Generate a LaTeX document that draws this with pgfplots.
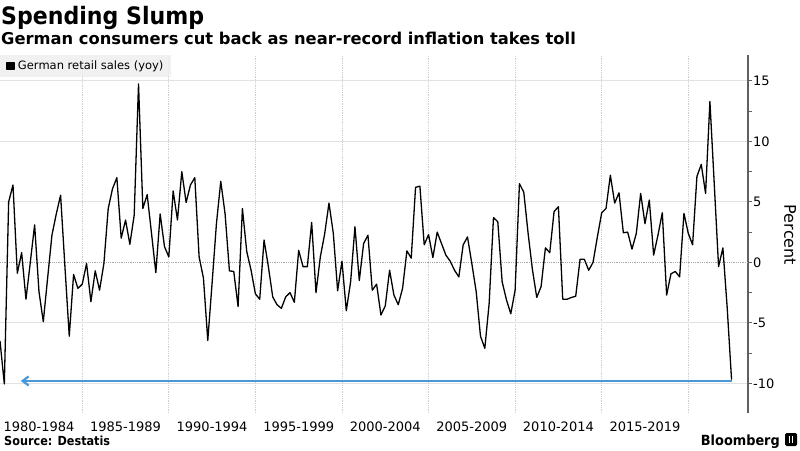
\documentclass[border=0pt]{standalone}
\usepackage{fontspec}
\setmainfont{DejaVu Sans}
\newfontfamily\titlefont{DejaVu Sans}[FakeStretch=0.92]
\newfontfamily\srcfont{DejaVu Sans}[FakeStretch=0.9]
\usepackage{pgfplots}
\pgfplotsset{compat=1.18}
\usetikzlibrary{arrows.meta}
\definecolor{hgrid}{HTML}{E2E2E2}
\definecolor{vgrid}{HTML}{CFCFCF}
\definecolor{zerogrid}{HTML}{A8A8A8}
\definecolor{axisgray}{HTML}{606060}
\definecolor{arrowblue}{HTML}{4A98D8}
\definecolor{legfill}{HTML}{EEEEEE}

\pgfplotstableread{
x y
1980.25 -6.5
1980.50 -10.05
1980.75 5.0
1981.00 6.4
1981.25 -0.9
1981.50 0.8
1981.75 -3.05
1982.00 0.0
1982.25 3.1
1982.50 -2.4
1982.75 -4.9
1983.00 -1.3
1983.25 2.25
1983.50 4.0
1983.75 5.55
1984.00 -0.35
1984.25 -6.1
1984.50 -1.0
1984.75 -2.15
1985.00 -1.8
1985.25 -0.1
1985.50 -3.25
1985.75 -0.7
1986.00 -2.3
1986.25 -0.1
1986.50 4.45
1986.75 6.1
1987.00 7.0
1987.25 2.0
1987.50 3.5
1987.75 1.5
1988.00 3.9
1988.25 14.75
1988.50 4.45
1988.75 5.6
1989.00 2.4
1989.25 -0.85
1989.50 4.0
1989.75 1.3
1990.00 0.45
1990.25 5.9
1990.50 3.5
1990.75 7.5
1991.00 4.95
1991.25 6.4
1991.50 7.0
1991.75 0.45
1992.00 -1.3
1992.25 -6.45
1992.50 -1.7
1992.75 3.2
1993.00 6.7
1993.25 4.0
1993.50 -0.7
1993.75 -0.75
1994.00 -3.65
1994.25 4.45
1994.50 0.9
1994.75 -0.65
1995.00 -2.6
1995.25 -3.05
1995.50 1.85
1995.75 -0.35
1996.00 -2.85
1996.25 -3.5
1996.50 -3.8
1996.75 -2.85
1997.00 -2.5
1997.25 -3.3
1997.50 1.0
1997.75 -0.35
1998.00 -0.35
1998.25 3.3
1998.50 -2.5
1998.75 0.45
1999.00 2.35
1999.25 4.9
1999.50 2.4
1999.75 -2.35
2000.00 0.1
2000.25 -4.0
2000.50 -1.6
2000.75 2.95
2001.00 -1.5
2001.25 1.55
2001.50 2.25
2001.75 -2.3
2002.00 -1.8
2002.25 -4.35
2002.50 -3.6
2002.75 -0.65
2003.00 -2.7
2003.25 -3.5
2003.50 -2.15
2003.75 0.95
2004.00 0.35
2004.25 6.2
2004.50 6.3
2004.75 1.45
2005.00 2.3
2005.25 0.4
2005.50 2.5
2005.75 1.55
2006.00 0.6
2006.25 0.1
2006.50 -0.65
2006.75 -1.2
2007.00 1.45
2007.25 2.1
2007.50 -0.1
2007.75 -2.4
2008.00 -6.1
2008.25 -7.1
2008.50 -3.4
2008.75 3.7
2009.00 3.35
2009.25 -1.6
2009.50 -3.1
2009.75 -4.25
2010.00 -2.3
2010.25 6.5
2010.50 5.8
2010.75 2.4
2011.00 -0.6
2011.25 -2.9
2011.50 -2.0
2011.75 1.2
2012.00 0.8
2012.25 4.2
2012.50 4.6
2012.75 -3.05
2013.00 -3.05
2013.25 -2.9
2013.50 -2.8
2013.75 0.25
2014.00 0.25
2014.25 -0.65
2014.50 0.0
2014.75 2.1
2015.00 4.1
2015.25 4.45
2015.50 7.2
2015.75 4.9
2016.00 5.75
2016.25 2.45
2016.50 2.5
2016.75 1.1
2017.00 2.4
2017.25 5.7
2017.50 3.2
2017.75 5.15
2018.00 0.6
2018.25 2.25
2018.50 4.1
2018.75 -2.7
2019.00 -0.95
2019.25 -0.75
2019.50 -1.2
2019.75 4.05
2020.00 2.4
2020.25 1.45
2020.50 7.1
2020.75 8.1
2021.00 5.7
2021.25 13.3
2021.50 6.5
2021.75 -0.35
2022.00 1.2
2022.25 -3.8
2022.50 -9.7
}\retail

\begin{document}
\begin{tikzpicture}[x=1pt,y=1pt]
\path[use as bounding box] (0,0) rectangle (800,450);
\begin{axis}[
  at={(0pt,37pt)}, anchor=south west,
  scale only axis, width=748pt, height=358pt,
  xmin=1980.25, xmax=2023.45, ymin=-12.45, ymax=17.14,
  axis y line*=right, axis x line*=bottom,
  x axis line style={draw=none},
  y axis line style={draw=axisgray, line width=1.5pt},
  xtick={1982.5,1987.5,1992.5,1997.5,2002.5,2007.5,2012.5,2017.5},
  xticklabels={1980-1984,1985-1989,1990-1994,1995-1999,2000-2004,2005-2009,2010-2014,2015-2019},
  minor xtick={1985,1990,1995,2000,2005,2010,2015,2020},
  xminorgrids=true,
  minor x grid style={draw=vgrid, line width=0.8pt, densely dotted},
  x tick style={draw=none},
  ytick={-10,-5,5,10,15},
  yticklabels={-10,-5,5,10,15},
  extra y ticks={0}, extra y tick labels={0},
  extra y tick style={major grid style={draw=zerogrid, line width=0.8pt, densely dotted}},
  minor ytick={-12.5,-7.5,-2.5,2.5,7.5,12.5},
  ymajorgrids=true,
  major grid style={draw=hgrid, line width=0.9pt},
  y tick style={draw=axisgray, line width=1pt},
  tick align=outside, major tick length=4pt, minor tick length=4pt,
  ticklabel style={font=\fontsize{13}{13}\selectfont, text=black},
  yticklabel style={anchor=west, inner sep=0pt, xshift=1pt},
  xticklabel style={anchor=north, inner sep=0pt, yshift=-4.5pt},
  legend style={at={(0,1)}, anchor=north west, draw=none, fill=legfill,
    fill opacity=0.8, text opacity=1, inner xsep=6pt, inner ysep=4pt,
    font=\fontsize{11.5}{11.5}\selectfont,
    /tikz/every odd column/.append style={column sep=1.5pt}},
  legend image code/.code={\fill[black, fill opacity=1] (0pt,-3.5pt) rectangle (7pt,3.5pt);},
  clip=true,
]
\addplot[black, line width=1.3pt, line join=round] table[x=x,y=y] {\retail};
\addlegendentry{German retail sales (yoy)}
\addplot[forget plot, arrowblue, line width=2.2pt, -{Straight Barb[length=6pt,width=9pt]}] coordinates {(2022.5,-9.8) (1981.45,-9.8)};
\end{axis}
\node[anchor=base west, inner sep=0pt, font=\titlefont\bfseries\fontsize{24}{24}\selectfont] at (1,425) {Spending Slump};
\node[anchor=base west, inner sep=0pt, font=\bfseries\fontsize{16.3}{16.3}\selectfont] at (1,405) {German consumers cut back as near-record inflation takes toll};
\node[anchor=base west, inner sep=0pt, font=\srcfont\bfseries\fontsize{12.5}{12.5}\selectfont] at (4,5) {Source: Destatis};
\node[anchor=base east, inner sep=0pt, font=\titlefont\bfseries\fontsize{14}{14}\selectfont] at (780,5) {Bloomberg};
\fill[black, rounded corners=1.5pt] (785,4) rectangle (797,17);
\fill[white] (788.5,7) rectangle (790,14);
\fill[white] (791.5,7) rectangle (793,14);
\node[rotate=-90, inner sep=0pt, font=\fontsize{16}{16}\selectfont] at (790,215) {Percent};
\end{tikzpicture}
\end{document}
